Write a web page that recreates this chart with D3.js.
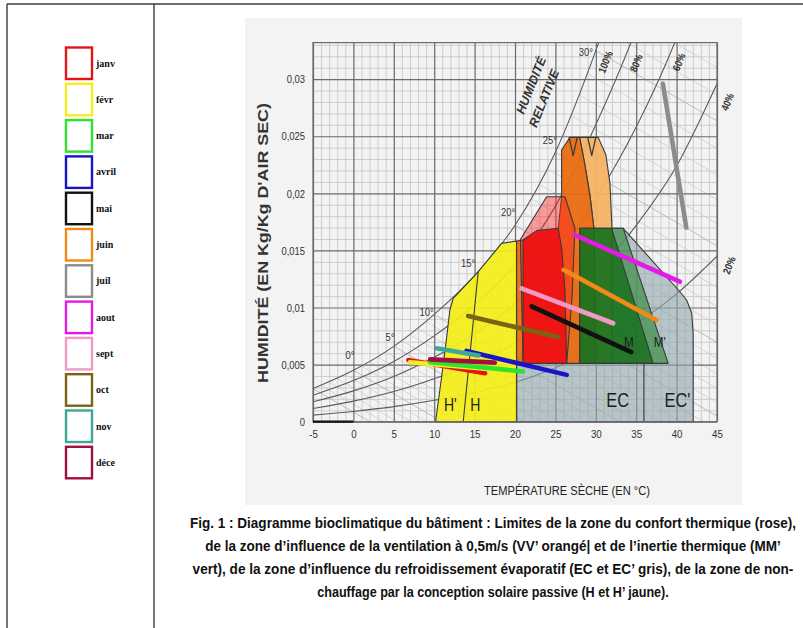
<!DOCTYPE html>
<html><head><meta charset="utf-8">
<script src="https://cdn.jsdelivr.net/npm/d3@7"></script>
<style>body{margin:0;background:#fff}svg{display:block}</style>
</head><body>
<svg id="c" width="803" height="628"></svg>
<script>
// ---------- DATA ----------
const months = ["janv","févr","mar","avril","mai","juin","juil","aout","sept","oct","nov","déce"];
const monthColors = ["#e3141c","#f6ee1c","#2ee32e","#1616c8","#111111","#f28a18","#8c8c8c","#e61ae6","#f29ac6","#7a6414","#3ea898","#a0103e"];
const monthTempStart = [6.8, 7.0, 9.5, 14.0, 22.05, 26.0, 38.3, 27.4, 20.8, 14.2, 10.3, 9.5];
const monthHumStart  = [0.0054, 0.0052, 0.0052, 0.0062, 0.0101, 0.0133, 0.0296, 0.01635, 0.01168, 0.00926, 0.00643, 0.00546];
const monthTempEnd   = [16.3, 18.1, 21.0, 26.4, 34.4, 37.5, 41.2, 40.4, 32.15, 25.35, 15.5, 17.5];
const monthHumEnd    = [0.00424, 0.00454, 0.0044, 0.0041, 0.0061, 0.0089, 0.0170, 0.01226, 0.00862, 0.00741, 0.0058, 0.00517];

const xTicks = [-5,0,5,10,15,20,25,30,35,40,45];
const xTickLabels = ["-5","0","5","10","15","20","25","30","35","40","45"];
const yTicks = [0,0.005,0.01,0.015,0.02,0.025,0.03];
const yTickLabels = ["0","0,005","0,01","0,015","0,02","0,025","0,03"];

// relative humidity curves
const rhTemps = [-5,0,5,10,15,20,25,30,35,40,45];
const rh100 = [0.0029,0.0045,0.0066,0.0094,0.0128,0.0172,0.0236,0.0325,0.0430,0.0560,0.0725];
const rh80  = [0.00232,0.0036,0.00528,0.00752,0.01024,0.01376,0.01888,0.0260,0.0344,0.0448,0.0580];
const rh60  = [0.00174,0.0027,0.00396,0.00564,0.00768,0.01032,0.01416,0.0195,0.0258,0.0336,0.0435];
const rh40  = [0.00116,0.0018,0.00264,0.00376,0.00512,0.00688,0.00944,0.0130,0.0172,0.0224,0.0296];
const rh20  = [0.00058,0.0009,0.00132,0.00188,0.00256,0.00344,0.00472,0.0065,0.0086,0.0112,0.0145];
const rhLabels = ["100%","80%","60%","40%","20%"];
const rhLabelT = [31.2, 35.0, 40.3, 46.3, 46.5];
const rhLabelW = [0.0315, 0.0314, 0.0315, 0.0280, 0.0137];

// wet bulb lines
const wetBulbTemps = d3.range(-5, 41, 1);
const wetBulbSlope = 0.00041;
const wetLabels = ["0°","5°","10°","15°","20°","25°","30°"];
const wetLabelT = [-0.43, 4.52, 9.06, 14.2, 19.16, 24.32, 28.78];
const wetLabelW = [0.00584, 0.00744, 0.00963, 0.01387, 0.01839, 0.02467, 0.0324];

// zones [T, w]
const zoneGrey = [[20.2,0],[42.05,0],[42.05,0.00777],[41.86,0.00952],[41.24,0.01066],[40.41,0.01138],[33.39,0.01694],[30.0,0.01694],[20.2,0.00511]];
const zoneYellow = [[10.17,0],[10.92,0.00394],[11.5,0.00715],[11.94,0.00978],[12.35,0.0108],[15.45,0.01313],[18.34,0.01562],[20.2,0.01582],[20.2,0]];
const lineH = [[13.59,0],[15.45,0.01313]];
const lineEC = [[35.95,0],[35.95,0.00511]];
const zoneVprime = [[28.0,0.0249],[30.3,0.0249],[31.25,0.02336],[31.75,0.0209],[32.0,0.01697],[32.0,0.00511],[30.0,0.00511],[29.76,0.01696],[29.27,0.01985],[28.65,0.02248]];
const zoneV = [[25.77,0.0238],[26.8,0.0249],[28.0,0.0249],[28.65,0.02248],[29.27,0.01985],[29.76,0.01696],[30.0,0.00511],[20.2,0.00511],[20.2,0.01582],[20.98,0.0159],[25.35,0.01694],[25.77,0.0197]];
const zoneComfort = [[20.67,0.01595],[23.91,0.0197],[26.18,0.0197],[27.41,0.01694],[27.04,0.01066],[26.39,0.00511],[21.0,0.00511]];
const zoneRed = [[21.0,0.00511],[21.0,0.01591],[22.67,0.01673],[25.35,0.01694],[25.8,0.01504],[26.18,0.01153],[26.39,0.00511]];
const zoneMprime = [[28.0,0.01694],[33.39,0.01694],[36.18,0.01102],[38.96,0.00511],[28.0,0.00511]];
const zoneM = [[28.0,0.01694],[31.96,0.01694],[37.1,0.00511],[28.0,0.00511]];
const notchT = [27.2, 29.5];

const zoneLabels = ["H'","H","EC","EC'","M","M'"];
const zoneLabelT = [12.0, 15.1, 32.7, 40.1, 34.1, 37.9];
const zoneLabelW = [0.00092, 0.00092, 0.00132, 0.00132, 0.00657, 0.00657];
const zoneLabelSize = [18, 18, 21, 21, 15, 15];

const captionLines = [
 "Fig. 1 : Diagramme bioclimatique du bâtiment : Limites de la zone du confort thermique (rose),",
 "de la zone d’influence de la ventilation à 0,5m/s (VV’ orangé| et de l’inertie thermique (MM’",
 "vert), de la zone d’influence du refroidissement évaporatif (EC et EC’ gris), de la zone de non-",
 "chauffage par la conception solaire passive (H et H’ jaune)."
];
const captionWidths = [607, 576, 601, 352];

// ---------- DRAW ----------
const svg = d3.select("#c");
const SANS = "'Liberation Sans',Arial,sans-serif";
// squeeze a text horizontally (emulates a condensed face) with a real transform
function squeezeTo(textSel, target){
  textSel.each(function(d,i){
    const t = typeof target === "function" ? target(d,i) : target;
    const l = this.getComputedTextLength();
    const f = t < 1.5 ? t : t / l;
    const ax = +this.getAttribute("x") || 0;
    this.setAttribute("transform", `translate(${ax},0) scale(${f},1) translate(${-ax},0)`);
  });
}
svg.append("rect").attr("width",803).attr("height",628).attr("fill","#fff");

// table frame
const frame = svg.append("g").attr("stroke","#3c3c3c").attr("stroke-width",1.4);
frame.append("line").attr("x1",7).attr("y1",4).attr("x2",803).attr("y2",4);
frame.append("line").attr("x1",7).attr("y1",4).attr("x2",7).attr("y2",628);
frame.append("line").attr("x1",154).attr("y1",4).attr("x2",154).attr("y2",628);

// figure panel
svg.append("rect").attr("x",245).attr("y",18).attr("width",497).attr("height",487).attr("fill","#f3f3f3");

const x = d3.scaleLinear().domain([-5,45]).range([313,717]);
const y = d3.scaleLinear().domain([0,0.0332]).range([421.7,42.6]);
const [X0,X1] = x.range(), [Y0,Y1] = y.range();

svg.append("defs").append("clipPath").attr("id","plot")
  .append("rect").attr("x",X0).attr("y",Y1).attr("width",X1-X0).attr("height",Y0-Y1);

// minor grid
const minorX = d3.range(-5,46,1).filter(d=>d%5!==0);
const minorY = d3.range(0,0.0332,0.001).filter((d,i)=>i%5!==0);
svg.append("g").attr("transform",`translate(0,${Y0})`)
  .call(d3.axisBottom(x).tickValues(minorX).tickSize(-(Y0-Y1)).tickFormat(""))
  .call(g=>{g.select(".domain").remove();g.selectAll("line").attr("stroke","#c4c4c4").attr("stroke-width",0.8);});
svg.append("g").attr("transform",`translate(${X0},0)`)
  .call(d3.axisLeft(y).tickValues(minorY).tickSize(-(X1-X0)).tickFormat(""))
  .call(g=>{g.select(".domain").remove();g.selectAll("line").attr("stroke","#c4c4c4").attr("stroke-width",0.8);});

// wet-bulb lines
const satLog = d3.scaleLinear().domain(rhTemps).range(rh100.map(Math.log));
const sat = t => Math.exp(satLog(t));
const line = d3.line().x(d=>x(d[0])).y(d=>y(d[1]));
const gClip = svg.append("g").attr("clip-path","url(#plot)");
gClip.selectAll(".wb").data(wetBulbTemps).join("path")
  .attr("d", t => { const w0 = sat(t); return line([[t,w0],[t + w0/wetBulbSlope, 0]]); })
  .attr("fill","none").attr("stroke", t => t%5===0 ? "#b0b0b0" : "#cecece").attr("stroke-width",0.8);

// major grid
svg.append("g").attr("transform",`translate(0,${Y0})`)
  .call(d3.axisBottom(x).tickValues(xTicks).tickSize(-(Y0-Y1)).tickFormat(""))
  .call(g=>{g.select(".domain").remove();g.selectAll("line").attr("stroke","#6a6a6a").attr("stroke-width",1.2);});
svg.append("g").attr("transform",`translate(${X0},0)`)
  .call(d3.axisLeft(y).tickValues(yTicks).tickSize(-(X1-X0)).tickFormat(""))
  .call(g=>{g.select(".domain").remove();g.selectAll("line").attr("stroke","#6a6a6a").attr("stroke-width",1.2);});

// RH curves
const curve = d3.line().x(d=>x(d[0])).y(d=>y(d[1])).curve(d3.curveMonotoneX);
[rh100,rh80,rh60,rh40,rh20].forEach(arr=>{
  gClip.append("path").attr("d",curve(rhTemps.map((t,i)=>[t,arr[i]])))
    .attr("fill","none").attr("stroke","#5a5a5a").attr("stroke-width",1.1);
});

// zones
const poly = d3.line().x(d=>x(d[0])).y(d=>y(d[1]));
const zg = svg.append("g").attr("stroke","#3a3a3a").attr("stroke-width",1.1).attr("stroke-linejoin","round");
function zone(pts, fill, op){ zg.append("path").attr("d",poly(pts)+"Z").attr("fill",fill).attr("fill-opacity",op); }
zone(zoneGrey,"#8fa6ad",0.6);
zone(zoneYellow,"#f4ee1a",0.93);
zone(zoneVprime,"#f6b264",0.95);
zone(zoneV,"#ea6c12",0.95);
zone(zoneComfort,"#ff2020",0.42);
zone(zoneRed,"#ee1414",0.97);
zone(zoneMprime,"#3f8f4a",0.72);
zone(zoneM,"#0e6a12",0.72);
zg.append("path").attr("d",poly(lineH)).attr("fill","none");
zg.append("path").attr("d",poly(lineEC)).attr("fill","none");
notchT.forEach(t=>{
  zg.append("path").attr("d",poly([[t-0.5,0.0249],[t,0.0233],[t+0.5,0.0249]])).attr("fill","none").attr("stroke-width",1.3);
});

// zone labels
svg.append("g").selectAll("text").data(zoneLabels).join("text")
  .attr("x",(d,i)=>x(zoneLabelT[i])).attr("y",(d,i)=>y(zoneLabelW[i]))
  .attr("text-anchor","middle").attr("font-family",SANS)
  .attr("font-size",(d,i)=>zoneLabelSize[i]).attr("fill","#1e1e1e").text(d=>d)
  .call(squeezeTo,0.78);

// month lines
svg.append("g").selectAll("line").data(months).join("line")
  .attr("x1",(d,i)=>x(monthTempStart[i])).attr("y1",(d,i)=>y(monthHumStart[i]))
  .attr("x2",(d,i)=>x(monthTempEnd[i])).attr("y2",(d,i)=>y(monthHumEnd[i]))
  .attr("stroke",(d,i)=>monthColors[i]).attr("stroke-width",4.6).attr("stroke-linecap","round");

// plot border
svg.append("rect").attr("x",X0).attr("y",Y1).attr("width",X1-X0).attr("height",Y0-Y1)
  .attr("fill","none").attr("stroke","#6a6a6a").attr("stroke-width",1.2);
svg.append("path").attr("d",line([[-5,0],[0,0]])).attr("stroke","#111").attr("stroke-width",2.2);

// axes labels
svg.append("g").attr("transform",`translate(0,${Y0})`)
  .call(d3.axisBottom(x).tickValues(xTicks).tickSize(0).tickPadding(8).tickFormat((d,i)=>xTickLabels[i]))
  .call(g=>{g.select(".domain").remove();g.selectAll("text").attr("font-family",SANS).attr("font-size",11.5).attr("fill","#333").call(squeezeTo,0.85);});
svg.append("g").attr("transform",`translate(${X0},0)`)
  .call(d3.axisLeft(y).tickValues(yTicks).tickSize(0).tickPadding(8).tickFormat((d,i)=>yTickLabels[i]))
  .call(g=>{g.select(".domain").remove();g.selectAll("text").attr("font-family",SANS).attr("font-size",11.5).attr("fill","#333").call(squeezeTo,0.82);});

// wet-bulb labels
svg.append("g").selectAll("text").data(wetLabels).join("text")
  .attr("x",(d,i)=>x(wetLabelT[i])).attr("y",(d,i)=>y(wetLabelW[i])+4)
  .attr("text-anchor","middle").attr("font-family",SANS).attr("font-size",11.5).attr("fill","#333").text(d=>d)
  .call(squeezeTo,0.82);

// RH labels
svg.append("g").selectAll("g").data(rhLabels).join("g")
  .attr("transform",(d,i)=>`translate(${x(rhLabelT[i])},${y(rhLabelW[i])}) rotate(-68)`)
  .append("text").attr("text-anchor","middle").attr("dy","0.35em").attr("font-family",SANS).attr("font-size",10.5)
  .attr("font-weight","bold").attr("fill","#333").text(d=>d).call(squeezeTo,0.85);

// HUMIDITÉ RELATIVE
const hr = svg.append("g").attr("font-family",SANS).attr("font-weight","bold")
  .attr("font-size",12.5).attr("fill","#333").attr("text-anchor","middle").attr("font-style","italic");
hr.append("text").attr("transform","translate(535,87) rotate(-68)").text("HUMIDITÉ");
hr.append("text").attr("transform","translate(548,100) rotate(-68)").text("RELATIVE");

// axis titles
svg.append("g").attr("transform","translate(268,243) rotate(-90)")
  .append("text").attr("text-anchor","middle")
  .attr("font-family",SANS).attr("font-weight","bold").attr("font-size",14)
  .attr("fill","#333").text("HUMIDITÉ (EN Kg/Kg D'AIR SEC)").call(squeezeTo,280);
svg.append("g").attr("transform","translate(567,495)")
  .append("text").attr("text-anchor","middle")
  .attr("font-family",SANS).attr("font-size",13.5).attr("fill","#222")
  .text("TEMPÉRATURE SÈCHE (EN °C)").call(squeezeTo,166);

// caption
svg.append("g").selectAll("g").data(captionLines).join("g")
  .attr("transform",(d,i)=>`translate(493,${528+i*23})`)
  .append("text").attr("text-anchor","middle")
  .attr("font-family",SANS).attr("font-weight","bold").attr("font-size",14.5).attr("fill","#111")
  .text(d=>d).call(squeezeTo,(d,i)=>captionWidths[i]);

// legend
const lg = svg.append("g").selectAll("g").data(months).join("g")
  .attr("transform",(d,i)=>`translate(66,${47.5+i*36.3})`);
lg.append("rect").attr("width",26).attr("height",31.5).attr("fill","#fff")
  .attr("stroke",(d,i)=>monthColors[i]).attr("stroke-width",2.4);
lg.append("text").attr("x",30).attr("y",19).attr("font-family","'Liberation Serif','Times New Roman',serif")
  .attr("font-weight","bold").attr("font-size",10).attr("fill","#111").text(d=>d);
</script>
</body></html>
